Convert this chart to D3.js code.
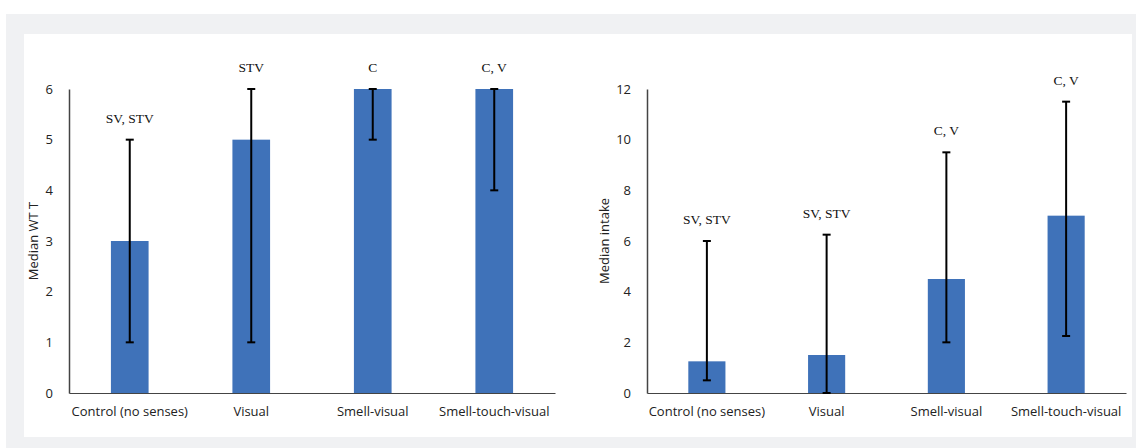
<!DOCTYPE html>
<html>
<head>
<meta charset="utf-8">
<script src="https://cdn.jsdelivr.net/npm/d3@7"></script>
<style>
  html, body { margin: 0; padding: 0; background: #fff; }
  svg { display: block; }
  .tick text, .cat { font-family: "Open Sans", "Noto Sans", sans-serif; font-size: 13px; fill: #222; }
  .note { font-family: "Liberation Serif", "DejaVu Serif", serif; font-size: 13.5px; fill: #111; }
</style>
</head>
<body>
<svg id="chart" width="1136" height="448"></svg>
<script>
// groups shared by both panels
const groups = ["Control (no senses)", "Visual", "Smell-visual", "Smell-touch-visual"];

// left panel: median WT T
const wttMedian = [3, 5, 6, 6];
const wttLow = [1, 1, 5, 4];
const wttHigh = [5, 6, 6, 6];
const wttNotes = ["SV, STV", "STV", "C", "C, V"];
const wttTicks = [0, 1, 2, 3, 4, 5, 6];

// right panel: median intake
const intakeMedian = [1.25, 1.5, 4.5, 7];
const intakeLow = [0.5, 0, 2, 2.25];
const intakeHigh = [6, 6.25, 9.5, 11.5];
const intakeNotes = ["SV, STV", "SV, STV", "C, V", "C, V"];
const intakeTicks = [0, 2, 4, 6, 8, 10, 12];

const svg = d3.select("#chart");

// gray frame + white card
svg.append("rect").attr("x", 6).attr("y", 14).attr("width", 1130).attr("height", 434).attr("fill", "#f0f1f3");
svg.append("rect").attr("x", 24).attr("y", 34).attr("width", 1108).attr("height", 403).attr("fill", "#fff");

function panel(opt) {
  const x = d3.scaleBand().domain(groups).range([opt.x0, opt.x1]).paddingInner(0.69).paddingOuter(0.345);
  const y = d3.scaleLinear().domain([0, d3.max(opt.ticks)]).range([393, 89]);
  const g = svg.append("g");

  const yAxis = g.append("g").attr("transform", `translate(${opt.x0},0)`)
    .call(d3.axisLeft(y).tickValues(opt.ticks).tickFormat(d3.format("d")).tickSize(0).tickPadding(12));
  yAxis.select(".domain").attr("stroke", "#444").attr("stroke-width", 1.5);

  const data = groups.map((k, i) => ({ k, v: opt.median[i], lo: opt.low[i], hi: opt.high[i], note: opt.notes[i] }));

  g.selectAll("rect.bar").data(data).join("rect")
    .attr("class", "bar")
    .attr("x", d => x(d.k))
    .attr("width", x.bandwidth())
    .attr("y", d => y(d.v))
    .attr("height", d => y(0) - y(d.v))
    .attr("fill", "#3f72b9");

  const xAxis = g.append("g").attr("transform", "translate(0,393)")
    .call(d3.axisBottom(x).tickSize(0).tickPadding(14));
  xAxis.select(".domain").attr("stroke", "#444").attr("stroke-width", 1.2);
  xAxis.selectAll(".tick text").attr("class", "cat");
  yAxis.selectAll(".tick text").attr("dx", "-4");

  const cx = d => x(d.k) + x.bandwidth() / 2;
  const eb = g.selectAll("g.err").data(data).join("g").attr("class", "err")
    .attr("stroke", "#000").attr("stroke-width", 2);
  eb.append("line").attr("x1", cx).attr("x2", cx).attr("y1", d => y(d.lo)).attr("y2", d => y(d.hi));
  eb.append("line").attr("x1", d => cx(d) - 4).attr("x2", d => cx(d) + 4).attr("y1", d => y(d.lo)).attr("y2", d => y(d.lo));
  eb.append("line").attr("x1", d => cx(d) - 4).attr("x2", d => cx(d) + 4).attr("y1", d => y(d.hi)).attr("y2", d => y(d.hi));

  g.selectAll("text.note").data(data).join("text")
    .attr("class", "note")
    .attr("x", cx)
    .attr("y", d => y(d.hi) - 17)
    .attr("text-anchor", "middle")
    .text(d => d.note);

  g.append("text")
    .attr("class", "cat")
    .attr("transform", `translate(${opt.titleX},241) rotate(-90)`)
    .attr("text-anchor", "middle")
    .attr("dy", "0.35em")
    .text(opt.title);
}

panel({ x0: 69, x1: 555, median: wttMedian, low: wttLow, high: wttHigh, notes: wttNotes, ticks: wttTicks, title: "Median WT T", titleX: 33 });
panel({ x0: 647, x1: 1126, median: intakeMedian, low: intakeLow, high: intakeHigh, notes: intakeNotes, ticks: intakeTicks, title: "Median intake", titleX: 604 });
</script>
</body>
</html>
